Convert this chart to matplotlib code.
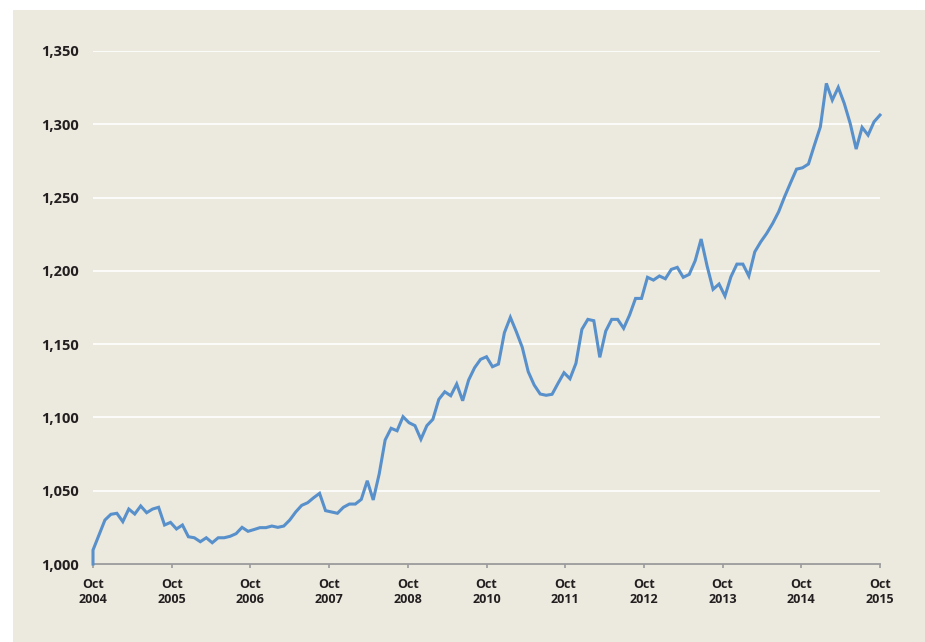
import numpy as np
import matplotlib.pyplot as plt
from matplotlib.patches import Rectangle

# index value, monthly Oct 2004 - Oct 2015 (base point first)
base_value = 1000
values = [
    1009.5, 1019.8, 1030.0, 1033.9, 1034.6, 1028.9, 1037.5, 1034.1, 1039.6, 1035.0,
    1037.5, 1038.7, 1026.6, 1028.4, 1023.9, 1026.6, 1018.6, 1017.9, 1015.2, 1017.9,
    1014.5, 1017.9, 1017.9, 1018.9, 1020.7, 1025.0, 1022.3, 1023.5, 1024.8, 1024.8,
    1025.9, 1025.0, 1025.9, 1030.0, 1035.5, 1040.0, 1041.8, 1045.2, 1048.2, 1036.4,
    1035.5, 1034.6, 1038.7, 1040.9, 1040.9, 1044.1, 1056.8, 1043.7, 1061.4, 1084.6,
    1092.6, 1090.9, 1100.5, 1096.4, 1094.4, 1085.1, 1094.4, 1098.7, 1112.3, 1117.5,
    1114.8, 1122.8, 1111.4, 1125.5, 1133.9, 1139.6, 1141.4, 1134.6, 1136.4, 1157.8,
    1168.3, 1158.5, 1147.8, 1131.2, 1122.1, 1116.0, 1115.1, 1115.8, 1123.3, 1130.5,
    1126.4, 1136.9, 1160.1, 1166.9, 1166.0, 1141.0, 1158.9, 1166.9, 1166.9, 1160.8,
    1169.9, 1181.2, 1181.2, 1195.6, 1193.7, 1196.5, 1194.6, 1201.0, 1202.4, 1195.6,
    1197.6, 1206.9, 1221.7, 1203.3, 1187.4, 1191.0, 1182.8, 1196.0, 1204.6, 1204.6,
    1196.5, 1213.0, 1219.8, 1225.6, 1232.4, 1240.3, 1250.6, 1260.1, 1269.4, 1270.3,
    1272.9, 1285.8, 1298.3, 1327.9, 1316.5, 1325.2, 1314.3, 1300.6, 1283.1, 1297.9,
    1292.6, 1301.7, 1306.3,
]
tick_labels = ['Oct\n2004', 'Oct\n2005', 'Oct\n2006', 'Oct\n2007', 'Oct\n2008', 'Oct\n2010',
               'Oct\n2011', 'Oct\n2012', 'Oct\n2013', 'Oct\n2014', 'Oct\n2015']
y_ticks = [1000, 1050, 1100, 1150, 1200, 1250, 1300, 1350]

months = np.arange(len(values))
x = np.r_[0, months]
y = np.r_[base_value, values]

plt.rcParams['font.family'] = ['Open Sans', 'DejaVu Sans']
bg = '#ECE9DF'
txt = '#231F20'

fig = plt.figure(figsize=(9.25, 6.42), dpi=100)
fig.add_artist(Rectangle((13 / 925, 0), 1, 1 - 10 / 642, transform=fig.transFigure,
                         facecolor=bg, edgecolor='none', zorder=-10))
ax = fig.add_axes([93 / 925, 1 - 564 / 642, 787 / 925, 513 / 642])
ax.patch.set_alpha(0)

ax.plot(x, y, color='#5790CA', linewidth=2.2, solid_joinstyle='miter', zorder=3, clip_on=False)

ax.set_xlim(0, months[-1])
ax.set_ylim(1000, 1350)
ax.set_yticks(y_ticks)
ax.set_yticklabels([f'{v:,}' for v in y_ticks], fontsize=10.5, fontweight='bold', color=txt)
ax.set_xticks(np.linspace(0, months[-1], len(tick_labels)))
ax.set_xticklabels(tick_labels, fontsize=9, fontweight='bold', color=txt, linespacing=1.25)
ax.tick_params(axis='y', length=0, pad=10)
ax.tick_params(axis='x', length=3, width=1.2, color='#9A9A9A', pad=7)
ax.grid(axis='y', color='white', linewidth=1.2, zorder=1)
ax.set_axisbelow(True)
for s in ['top', 'right', 'left']:
    ax.spines[s].set_visible(False)
ax.spines['bottom'].set_color('#9A9A9A')
ax.spines['bottom'].set_linewidth(1.3)

plt.savefig('out.png', dpi=100)
